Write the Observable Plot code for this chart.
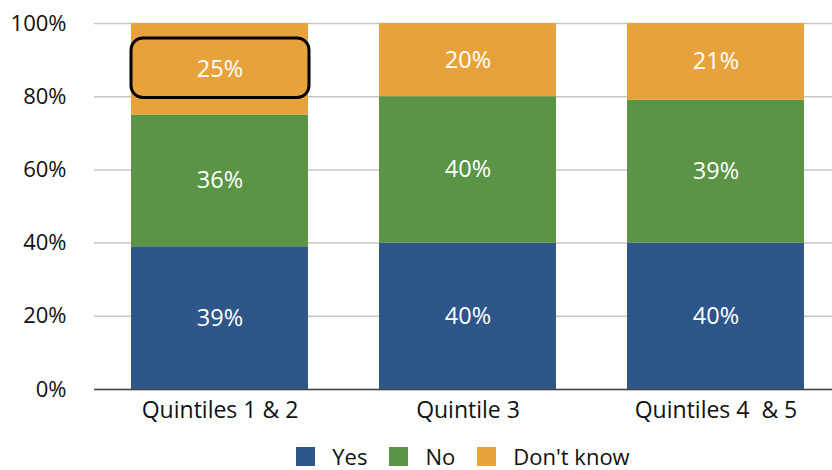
<!DOCTYPE html>
<html><head><meta charset="utf-8">
<script src="https://cdn.jsdelivr.net/npm/d3@7"></script>
<script src="https://cdn.jsdelivr.net/npm/@observablehq/plot@0.6"></script>
<style>
body{margin:0;background:#fff;font-family:"Open Sans",sans-serif;overflow:hidden}
#legend{display:flex;justify-content:center;font-size:22px;line-height:24px;color:#111;height:26px;align-items:center;margin-left:94px;margin-top:5px}
#legend .it{display:flex;align-items:center;margin-right:22px}
#legend .it:last-child{margin-right:0}
#legend .sw{width:19px;height:19px;margin-right:17px}
</style></head><body>
<div id="chart"></div>
<div id="legend"></div>
<script>
const categories = ["Quintiles 1 & 2", "Quintile 3", "Quintiles 4  & 5"];
const series = ["Yes", "No", "Don't know"];
const yes = [39, 40, 40];
const no = [36, 40, 39];
const dontKnow = [25, 20, 21];
const colors = ["#2F5689", "#5A9445", "#E8A23C"];
const yTicks = [0, 20, 40, 60, 80, 100];
const highlight = {category: "Quintiles 1 & 2", series: "Don't know"};

const vals = [yes, no, dontKnow];
const rows = [];
categories.forEach((c, i) => {
  let base = 0;
  series.forEach((s, j) => {
    const v = vals[j][i];
    rows.push({category: c, series: s, value: v, y1: base, y2: base + v});
    base += v;
  });
});
const hl = rows.filter(d => d.category === highlight.category && d.series === highlight.series);

const plot = Plot.plot({
  width: 832, height: 438,
  marginTop: 23, marginBottom: 49, marginLeft: 94, marginRight: 0,
  style: {fontFamily: "Open Sans, sans-serif", fontSize: "22px", color: "#111"},
  x: {domain: categories, range: [94, 841], paddingInner: 0.288, paddingOuter: 0.145, label: null, tickSize: 0, tickPadding: 12},
  y: {domain: [0, 100], ticks: yTicks, tickFormat: d => d + "%", label: null, tickSize: 0, tickPadding: 28},
  color: {domain: series, range: colors},
  marks: [
    Plot.gridY(yTicks, {stroke: "#c6c6c6", strokeOpacity: 1, strokeWidth: 1.5}),
    Plot.rect(rows, {x: "category", y1: "y1", y2: "y2", fill: "series"}),
    Plot.text(rows, {x: "category", y: d => (d.y1 + d.y2) / 2, text: d => d.value + "%", fill: "white", fontSize: 23.5}),
    Plot.rect(hl, {x: "category", y1: "y1", y2: "y2", insetTop: 15, insetBottom: 17, insetRight: -1, rx: 12, fill: "none", stroke: "black", strokeWidth: 3}),
    Plot.ruleY([0], {stroke: "#444", strokeWidth: 1.5})
  ]
});
plot.querySelectorAll("[aria-label='x-axis tick label'] text").forEach(t => t.setAttribute("font-size", "23"));
document.getElementById("chart").appendChild(plot);

const lg = document.getElementById("legend");
series.forEach((s, j) => {
  const it = document.createElement("div"); it.className = "it";
  const sw = document.createElement("div"); sw.className = "sw"; sw.style.background = colors[j];
  const t = document.createElement("span"); t.textContent = s;
  it.appendChild(sw); it.appendChild(t); lg.appendChild(it);
});
</script></body></html>
